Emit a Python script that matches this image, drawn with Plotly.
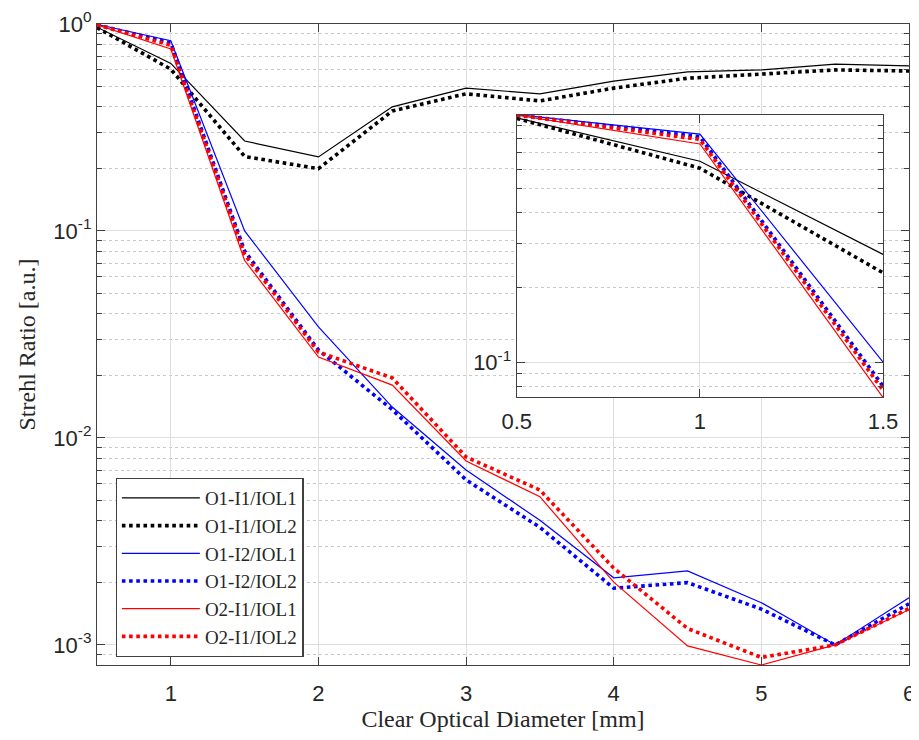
import plotly.graph_objects as go

# clear optical diameter [mm]
diam = [0.5, 1.0, 1.5, 2.0, 2.5, 3.0, 3.5, 4.0, 4.5, 5.0, 5.5, 6.0]

o1_i1_iol1 = [0.965, 0.645, 0.272, 0.228, 0.398, 0.49, 0.46, 0.53, 0.587, 0.60, 0.64, 0.627]
o1_i1_iol2 = [0.96, 0.605, 0.229, 0.20, 0.38, 0.46, 0.425, 0.49, 0.547, 0.574, 0.60, 0.593]
o1_i2_iol1 = [0.995, 0.83, 0.100, 0.0344, 0.0141, 0.0070, 0.0040, 0.00211, 0.00228, 0.0016, 0.0010, 0.00169]
o1_i2_iol2 = [0.99, 0.81, 0.080, 0.0266, 0.0137, 0.00627, 0.0037, 0.00188, 0.0020, 0.00149, 0.0010, 0.00158]
o2_i1_iol1 = [0.99, 0.757, 0.072, 0.0246, 0.018, 0.00774, 0.0052, 0.00201, 0.00099, 0.0008, 0.0010, 0.00148]
o2_i1_iol2 = [0.99, 0.79, 0.077, 0.026, 0.0195, 0.0081, 0.0056, 0.00235, 0.0012, 0.00087, 0.0010, 0.00150]

series = [
    ("O1-I1/IOL1", o1_i1_iol1, "black", "solid"),
    ("O1-I1/IOL2", o1_i1_iol2, "black", "dot"),
    ("O1-I2/IOL1", o1_i2_iol1, "blue", "solid"),
    ("O1-I2/IOL2", o1_i2_iol2, "blue", "dot"),
    ("O2-I1/IOL1", o2_i1_iol1, "red", "solid"),
    ("O2-I1/IOL2", o2_i1_iol2, "red", "dot"),
]

y_tickvals = [1e-3, 1e-2, 1e-1, 1]
y_ticktext = ["10<sup>-3</sup>", "10<sup>-2</sup>", "10<sup>-1</sup>", "10<sup>0</sup>"]
x_tickvals = [1, 2, 3, 4, 5, 6]
inset_x_ticks = [0.5, 1, 1.5]

minor_vals = [m * 10 ** e for e in range(-4, 1) for m in range(2, 10)]

fig = go.Figure()
for name, ys, col, dash in series:
    w = 1.2 if dash == "solid" else 3.6
    fig.add_trace(go.Scatter(x=diam, y=ys, mode="lines", name=name,
                             line=dict(color=col, width=w, dash=dash)))
for name, ys, col, dash in series:
    w = 1.2 if dash == "solid" else 3.6
    fig.add_trace(go.Scatter(x=diam, y=ys, mode="lines", name=name, showlegend=False,
                             xaxis="x2", yaxis="y2",
                             line=dict(color=col, width=w, dash=dash)))

tickfont = dict(family="Liberation Sans, Arial", size=22, color="#262626")
axcommon = dict(
    showline=True, linecolor="#404040", linewidth=1.2, mirror="allticks",
    ticks="inside", ticklen=8, tickcolor="#404040",
    showgrid=True, gridcolor="#dedede", gridwidth=1,
    zeroline=False, tickfont=tickfont, automargin=False,
    ticklabeloverflow="allow",
)
minor_y = dict(tickvals=minor_vals, ticks="inside", ticklen=5, tickcolor="#404040",
               showgrid=True, gridcolor="#c8c8c8", griddash="dot", gridwidth=1)
titlefont = dict(family="Liberation Serif", size=24, color="#262626")

# the page puts the plot 8px in from the top-left corner
fig.update_layout(
    width=911, height=724,
    margin=dict(l=89, r=10, t=16, b=67),
    paper_bgcolor="white", plot_bgcolor="white",
    font=dict(family="Liberation Serif, Times New Roman", color="#262626"),
    xaxis=dict(axcommon, range=[0.5, 6], tickvals=x_tickvals, domain=[0, 1],
               ticklabelstandoff=8,
               title=dict(text="Clear Optical Diameter [mm]", font=titlefont, standoff=8)),
    yaxis=dict(axcommon, type="log", range=[-3.097, 0], tickvals=y_tickvals,
               ticktext=y_ticktext, domain=[0, 1], minor=minor_y,
               title=dict(text="Strehl Ratio [a.u.]", font=titlefont, standoff=10)),
    xaxis2=dict(axcommon, anchor="y2", range=[0.5, 1.5], tickvals=inset_x_ticks,
                domain=[0.517, 0.968], ticklabelstandoff=4),
    yaxis2=dict(axcommon, anchor="x2", type="log", range=[-1.141, -0.004],
                tickvals=[0.1], ticktext=["10<sup>-1</sup>"],
                domain=[0.418, 0.858], minor=minor_y),
    legend=dict(x=0.023, y=0.292, xanchor="left", yanchor="top",
                bgcolor="white", bordercolor="#404040", borderwidth=1.2,
                font=dict(family="Liberation Serif", size=19, color="#262626"),
                tracegroupgap=0, itemwidth=78),
    showlegend=True,
)

fig.write_html("out.html")
